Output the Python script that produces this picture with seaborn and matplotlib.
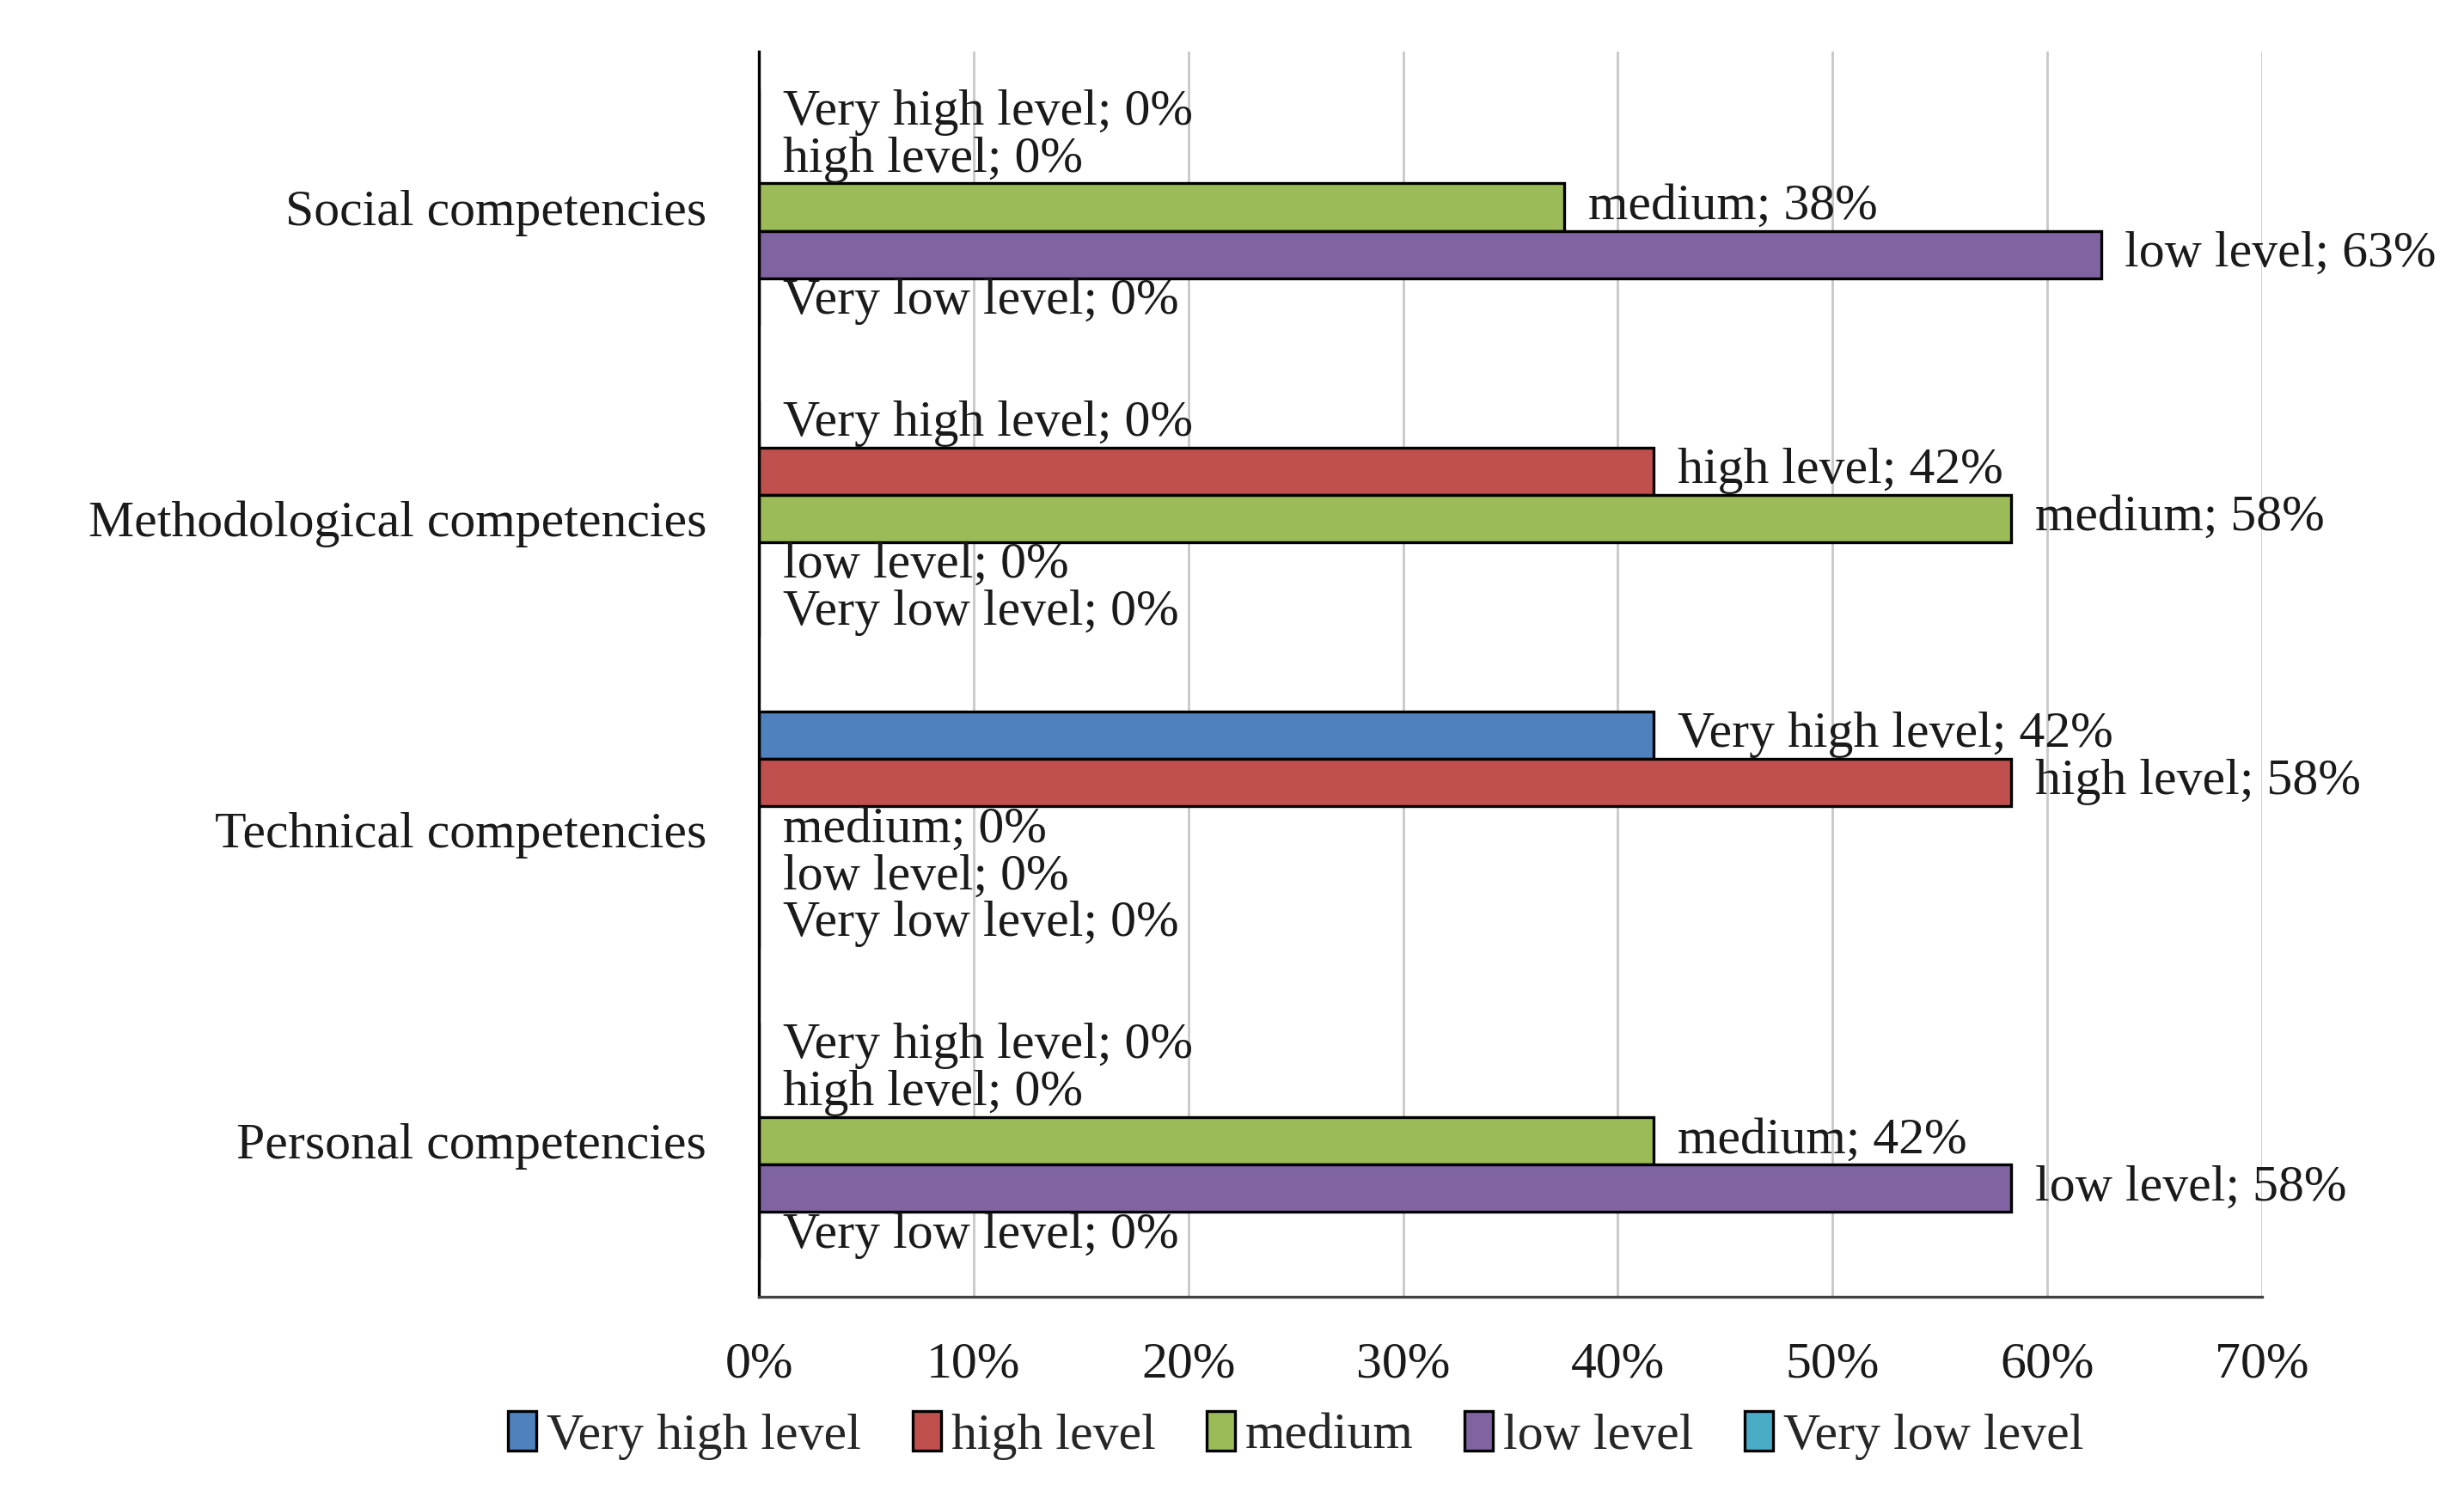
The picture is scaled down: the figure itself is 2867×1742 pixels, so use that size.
import pandas as pd
import matplotlib
matplotlib.use("Agg")
import matplotlib.pyplot as plt
import seaborn as sns
from matplotlib.ticker import PercentFormatter

# data (percent)
categories = ["Social competencies", "Methodological competencies",
              "Technical competencies", "Personal competencies"]
levels = ["Very high level", "high level", "medium", "low level", "Very low level"]
very_high = [0, 0, 41.67, 0]
high = [0, 41.67, 58.33, 0]
medium = [37.5, 58.33, 0, 41.67]
low = [62.5, 0, 0, 58.33]
very_low = [0, 0, 0, 0]
colors = ["#4F81BD", "#C0504D", "#9BBB59", "#8064A2", "#4BACC6"]

rows = []
for lev, vals in zip(levels, [very_high, high, medium, low, very_low]):
    for cat, v in zip(categories, vals):
        rows.append({"category": cat, "level": lev, "value": v})
df = pd.DataFrame(rows)

sns.set_style("white")
plt.rcParams["font.family"] = ["Liberation Serif", "DejaVu Serif"]
FS = 21.5

fig, ax = plt.subplots(figsize=(14.335, 8.71), dpi=200)
fig.subplots_adjust(left=0.308, right=0.918, top=0.9656, bottom=0.134)

sns.barplot(data=df, y="category", x="value", hue="level", order=categories,
            hue_order=levels, palette=colors, saturation=1, orient="h", width=0.76,
            edgecolor="black", linewidth=1.2, ax=ax, legend=True)

# data labels "level; value%"
for lev, cont in zip(levels, ax.containers):
    vals = df[df["level"] == lev].set_index("category").loc[categories, "value"]
    labs = [f"{lev}; {int(v + 0.5)}%" for v in vals]
    ax.bar_label(cont, labels=labs, padding=10, fontsize=FS, color="#1a1a1a")

ax.set_xlim(0, 70)
ax.set_ylim(3.5, -0.5)
ax.xaxis.set_major_formatter(PercentFormatter(decimals=0))
ax.set_xticks(range(0, 71, 10))
ax.grid(axis="x", color="#c8c8c8", linewidth=1.0)
ax.set_axisbelow(True)
ax.set_xlabel("")
ax.set_ylabel("")
ax.tick_params(axis="x", length=0, pad=19, labelsize=FS, labelcolor="#1a1a1a")
ax.tick_params(axis="y", length=0, pad=22, labelsize=FS, labelcolor="#1a1a1a")
for s in ["top", "right"]:
    ax.spines[s].set_visible(False)
ax.spines["left"].set_color("black")
ax.spines["left"].set_linewidth(1.2)
ax.spines["bottom"].set_color("#444444")
ax.spines["bottom"].set_linewidth(1.2)

handles, labels = ax.get_legend_handles_labels()
ax.get_legend().remove()
fig.legend(handles, labels, loc="center", bbox_to_anchor=(0.526, 0.041), ncol=5,
           frameon=False, fontsize=FS, handlelength=0.55, handleheight=0.8,
           handletextpad=0.2, columnspacing=1.0)

fig.savefig("out.png", dpi=200)
